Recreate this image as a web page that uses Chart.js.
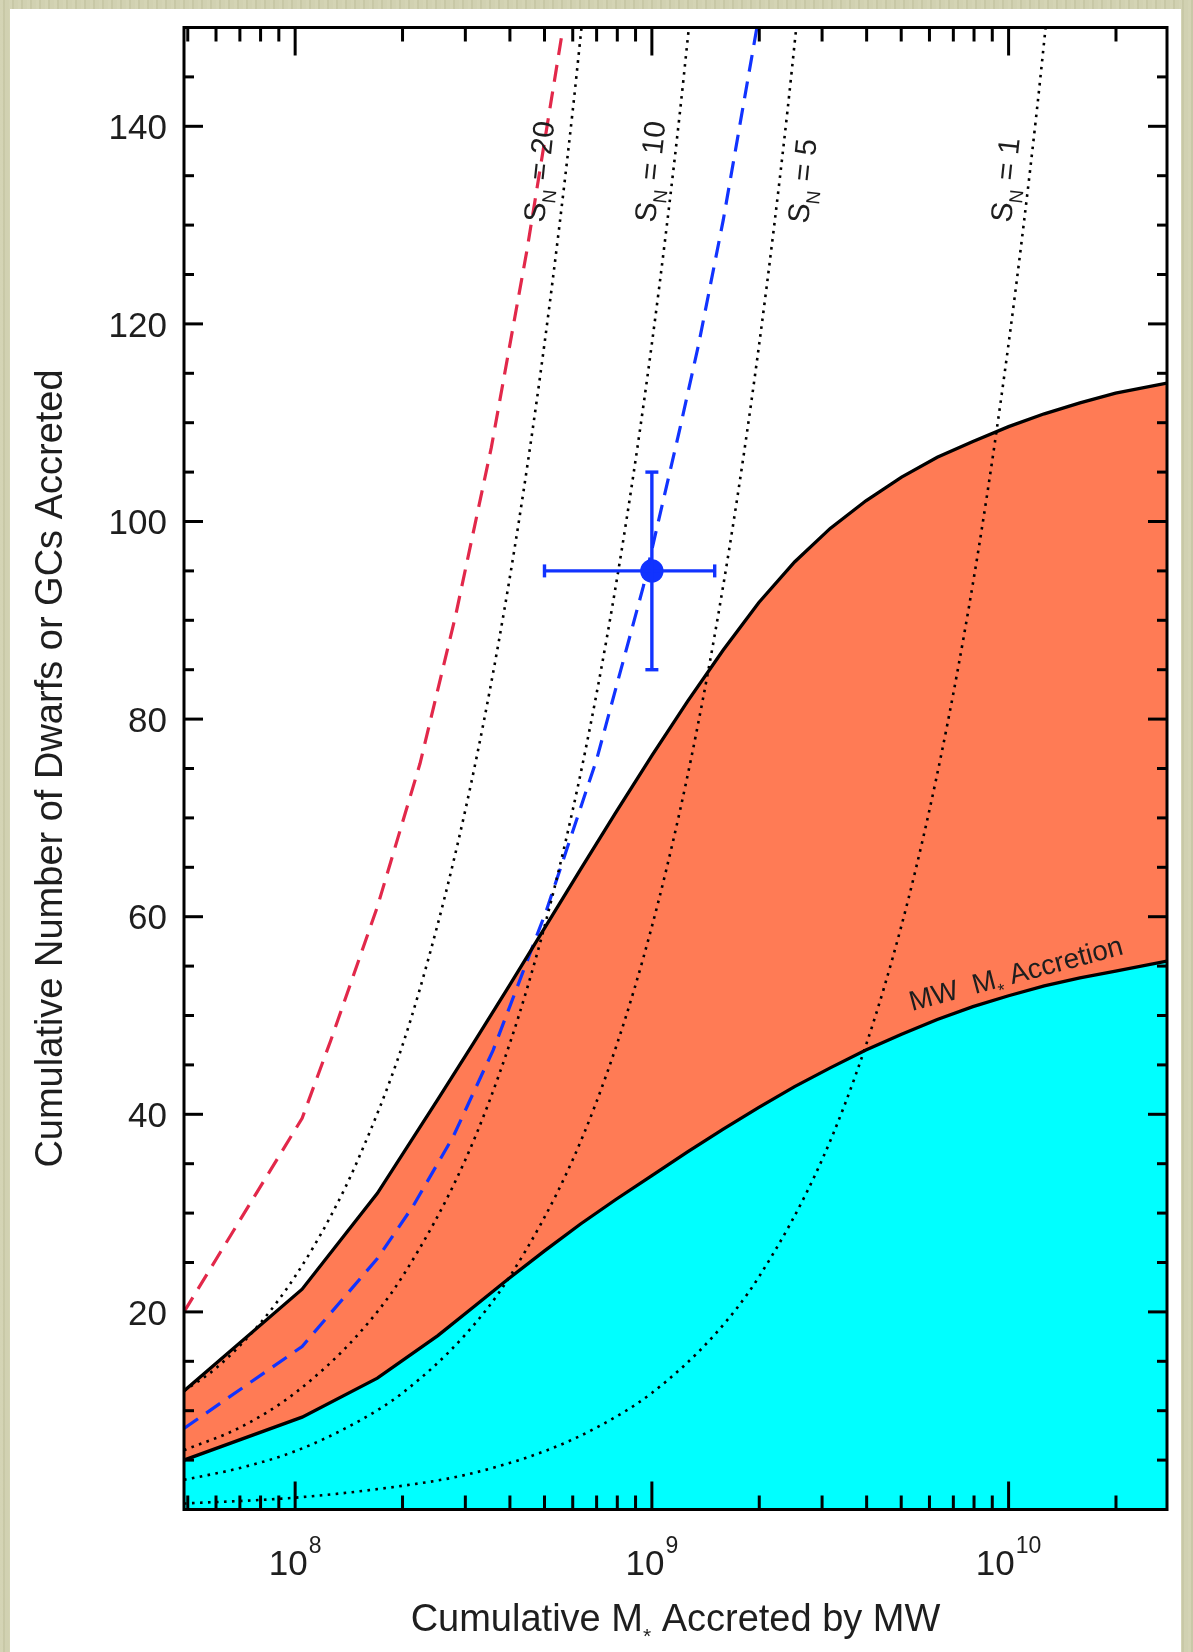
<!DOCTYPE html>
<html>
<head>
<meta charset="utf-8">
<script src="https://cdn.jsdelivr.net/npm/chart.js@4.4.1/dist/chart.umd.min.js"></script>
<style>
  html, body { margin: 0; padding: 0; }
  body {
    width: 1193px; height: 1652px; position: relative; overflow: hidden;
    background-color: #cfcfae;
    background-image: repeating-linear-gradient(90deg, rgba(255,255,240,0.10) 0 3px, rgba(120,120,80,0.08) 3px 5px, rgba(255,255,240,0.05) 5px 9px);
  }
  #panel { position: absolute; left: 10px; top: 9px; width: 1171px; height: 1643px; background: #fff; }
  #wrap { position: absolute; left: 0; top: 0; width: 1193px; height: 1652px; }
</style>
</head>
<body>
<div id="panel"></div>
<div id="wrap"><canvas id="c" width="1193" height="1652"></canvas></div>
<script>
// Axis ranges
const massMin = 4.88e7;
const massMax = 2.78e10;
const countMin = 0;
const countMax = 150;

// Accreted-dwarf band: stellar mass accreted (Msun) with upper and lower counts
const bandMass  = [4.88e7, 1.046e8, 1.70e8, 2.512e8, 3.162e8, 3.981e8, 5.012e8, 6.310e8, 7.943e8, 1.0e9,
                   1.259e9, 1.585e9, 1.995e9, 2.512e9, 3.162e9, 3.981e9, 5.012e9, 6.310e9, 7.943e9, 1.0e10,
                   1.259e10, 1.585e10, 1.995e10, 2.78e10];
const bandUpper = [12.0, 22.3, 32.0, 41.5, 47.2, 53.0, 58.9, 64.8, 70.6, 76.3,
                   81.8, 87.0, 91.8, 95.9, 99.3, 102.1, 104.5, 106.5, 108.1, 109.6,
                   110.9, 112.0, 113.0, 114.0];
const bandLower = [5.0, 9.35, 13.3, 17.6, 20.5, 23.4, 26.2, 28.9, 31.4, 33.8,
                   36.2, 38.5, 40.7, 42.8, 44.7, 46.5, 48.1, 49.6, 50.9, 52.0,
                   53.0, 53.8, 54.5, 55.5];

// GC counts for constant specific frequency S_N
const sn20Mass = [4.88e7, 6e7, 8e7, 1e8, 1.25e8, 1.5e8, 2e8, 2.5e8, 3e8, 3.5e8, 4e8, 4.5e8, 5e8, 5.5e8, 6e8, 6.35e8];
const sn20N    = [12.0, 14.3, 18.9, 23.6, 29.5, 35.4, 47.0, 59.0, 70.8, 82.6, 94.4, 106.2, 118.0, 129.8, 141.6, 150.0];
const sn10Mass = [4.88e7, 7e7, 1e8, 1.5e8, 2e8, 3e8, 4e8, 5e8, 6e8, 7e8, 8e8, 9e8, 1e9, 1.1e9, 1.2e9, 1.27e9];
const sn10N    = [6.0, 8.3, 11.8, 17.7, 23.6, 35.4, 47.2, 59.0, 70.8, 82.6, 94.4, 106.2, 118.0, 129.8, 141.6, 150.0];
const sn5Mass  = [4.88e7, 7e7, 1e8, 1.5e8, 2e8, 3e8, 4e8, 6e8, 8e8, 1e9, 1.2e9, 1.4e9, 1.6e9, 1.8e9, 2e9, 2.2e9, 2.4e9, 2.54e9];
const sn5N     = [3.0, 4.2, 5.9, 8.9, 11.8, 17.7, 23.6, 35.4, 47.2, 59.0, 70.8, 82.6, 94.4, 106.2, 118.0, 129.8, 141.6, 150.0];
const sn1Mass  = [4.88e7, 1e8, 2e8, 3e8, 5e8, 7e8, 1e9, 1.5e9, 2e9, 3e9, 4e9, 5e9, 6e9, 7e9, 8e9, 9e9, 1e10, 1.1e10, 1.2e10, 1.27e10];
const sn1N     = [0.6, 1.2, 2.4, 3.5, 5.9, 8.3, 11.8, 17.7, 23.6, 35.4, 47.2, 59.0, 70.8, 82.6, 94.4, 106.2, 118.0, 129.8, 141.6, 150.0];

// Dashed model tracks
const redMass  = [4.88e7, 1.046e8, 1.259e8, 1.70e8, 2.239e8, 2.818e8, 3.548e8, 4.467e8, 5.636e8];
const redN     = [20.0, 39.6, 47.5, 61.0, 75.5, 90.5, 107.5, 127.5, 150.0];
const blueMass = [4.88e7, 1.046e8, 1.70e8, 2.14e8, 2.77e8, 3.59e8, 5.07e8, 7.0e8, 9.46e8, 1.20e9, 1.35e9, 1.585e9, 1.97e9];
const blueN    = [8.2, 16.5, 25.4, 30.7, 37.7, 46.5, 60.7, 75.9, 93.4, 109.5, 117.8, 130.5, 150.0];

// Measured point with its error range
const pointMass = [1e9];
const pointN = [95];
const pointMassLow = [5e8];
const pointMassHigh = [1.5e9];
const pointNLow = [85];
const pointNHigh = [105];

// Tick labels
const yTickLabels = [20, 40, 60, 80, 100, 120, 140];
const xTickValues = [1e8, 1e9, 1e10];
const xTickExps = ['8', '9', '10'];
const snLabels = ['20', '10', '5', '1'];

const FONT = '"Liberation Sans", Arial, Helvetica, sans-serif';
const INK = '#1e1e1e';

const pts = (m, n) => m.map((v, i) => ({ x: v, y: n[i] }));

const dotted = (mass, n) => ({
  data: pts(mass, n), borderColor: '#000', borderWidth: 2.6, borderDash: [2.6, 5.4],
  pointRadius: 0, fill: false, cubicInterpolationMode: 'monotone'
});
const dashed = (mass, n, color) => ({
  data: pts(mass, n), borderColor: color, borderWidth: 3.2, borderDash: [17, 10],
  pointRadius: 0, fill: false, tension: 0
});

function line(ctx, x1, y1, x2, y2) {
  ctx.beginPath(); ctx.moveTo(x1, y1); ctx.lineTo(x2, y2); ctx.stroke();
}

// Draws a run of text pieces along a rotated baseline; each piece has its own size and offset
function drawRun(ctx, x0, y0, angleDeg, parts) {
  ctx.save();
  ctx.translate(x0, y0);
  ctx.rotate(angleDeg * Math.PI / 180);
  ctx.textAlign = 'left';
  ctx.textBaseline = 'alphabetic';
  let cx = 0;
  for (const p of parts) {
    ctx.font = p.size + 'px ' + FONT;
    ctx.fillText(p.text, cx, p.dy || 0);
    cx += ctx.measureText(p.text).width + (p.gap || 0);
  }
  ctx.restore();
}
function runWidth(ctx, parts) {
  let w = 0;
  for (const p of parts) { ctx.font = p.size + 'px ' + FONT; w += ctx.measureText(p.text).width + (p.gap || 0); }
  return w;
}

const framePlugin = {
  id: 'frameAndLabels',
  afterDatasetsDraw(chart) {
    const { ctx, chartArea: a, scales: { x, y } } = chart;
    ctx.save();
    // error bars on the measured point
    ctx.strokeStyle = '#1133ff';
    ctx.lineWidth = 3.4;
    ctx.lineCap = 'butt';
    for (let i = 0; i < pointMass.length; i++) {
      const px = x.getPixelForValue(pointMass[i]);
      const py = y.getPixelForValue(pointN[i]);
      const xl = x.getPixelForValue(pointMassLow[i]), xh = x.getPixelForValue(pointMassHigh[i]);
      const yl = y.getPixelForValue(pointNLow[i]), yh = y.getPixelForValue(pointNHigh[i]);
      line(ctx, xl, py, xh, py);
      line(ctx, px, yl, px, yh);
      line(ctx, xl, py - 6.5, xl, py + 6.5);
      line(ctx, xh, py - 6.5, xh, py + 6.5);
      line(ctx, px - 6.5, yl, px + 6.5, yl);
      line(ctx, px - 6.5, yh, px + 6.5, yh);
    }
    // axis box
    ctx.strokeStyle = '#000';
    ctx.lineWidth = 3;
    ctx.strokeRect(a.left, a.top, a.right - a.left, a.bottom - a.top);
    // inward ticks on the log axis (bottom and top)
    for (let d = 1e7; d <= 1e11; d *= 10) {
      for (let k = 1; k <= 9; k++) {
        const v = k * d;
        if (v < massMin || v > massMax) continue;
        const px = x.getPixelForValue(v);
        const len = k === 1 ? 28 : 14;
        line(ctx, px, a.bottom, px, a.bottom - len);
        line(ctx, px, a.top, px, a.top + len);
      }
    }
    // inward ticks on the count axis (left and right)
    for (let v = countMin + 5; v < countMax; v += 5) {
      const py = y.getPixelForValue(v);
      const len = v % 20 === 0 ? 19 : 10;
      line(ctx, a.left, py, a.left + len, py);
      line(ctx, a.right, py, a.right - len, py);
    }
    ctx.restore();
  },
  afterDraw(chart) {
    const { ctx, chartArea: a, scales: { x } } = chart;
    ctx.save();
    ctx.fillStyle = INK;
    // decade labels with raised exponents
    ctx.textBaseline = 'alphabetic';
    ctx.textAlign = 'left';
    xTickValues.forEach((v, i) => {
      ctx.font = '35px ' + FONT;
      const wb = ctx.measureText('10').width;
      ctx.font = '23px ' + FONT;
      const we = ctx.measureText(xTickExps[i]).width;
      const left = x.getPixelForValue(v) - (wb + we + 1) / 2;
      ctx.font = '35px ' + FONT;
      ctx.fillText('10', left, 1575);
      ctx.font = '23px ' + FONT;
      ctx.fillText(xTickExps[i], left + wb + 1, 1553);
    });
    // x-axis title
    const xt = [
      { text: 'Cumulative M', size: 38 },
      { text: '*', size: 21, dy: 12 },
      { text: ' Accreted by MW', size: 38 }
    ];
    const xw = runWidth(ctx, xt);
    drawRun(ctx, (a.left + a.right) / 2 - xw / 2, 1631, 0, xt);
    // y-axis title
    ctx.save();
    ctx.translate(62, (a.top + a.bottom) / 2);
    ctx.rotate(-Math.PI / 2);
    ctx.textAlign = 'center';
    ctx.font = '38px ' + FONT;
    ctx.fillText('Cumulative Number of Dwarfs or GCs Accreted', 0, 0);
    ctx.restore();
    // S_N labels along the dotted tracks
    const snPos = [[544, 223], [655, 223], [808, 224], [1011, 223]];
    snLabels.forEach((s, i) => {
      drawRun(ctx, snPos[i][0], snPos[i][1], -84, [
        { text: 'S', size: 30 },
        { text: 'N', size: 19, dy: 9 },
        { text: ' = ' + s, size: 30 }
      ]);
    });
    // label on the lower band edge
    drawRun(ctx, 912, 1011, -15, [
      { text: 'MW  M', size: 28 },
      { text: '*', size: 18, dy: 9 },
      { text: ' Accretion', size: 28 }
    ]);
    ctx.restore();
  }
};

const chart = new Chart(document.getElementById('c'), {
  type: 'line',
  data: {
    datasets: [
      { data: pts(bandMass, bandLower), borderColor: '#000', borderWidth: 3.3, backgroundColor: '#00ffff',
        fill: 'origin', pointRadius: 0, tension: 0 },
      { data: pts(bandMass, bandUpper), borderColor: '#000', borderWidth: 3.3, backgroundColor: '#ff7b55',
        fill: '-1', pointRadius: 0, tension: 0 },
      dotted(sn20Mass, sn20N),
      dotted(sn10Mass, sn10N),
      dotted(sn5Mass, sn5N),
      dotted(sn1Mass, sn1N),
      dashed(redMass, redN, '#e2284a'),
      dashed(blueMass, blueN, '#1133ff'),
      { data: pts(pointMass, pointN), showLine: false, pointRadius: 11.7, pointHoverRadius: 11.7,
        pointBackgroundColor: '#1133ff', pointBorderColor: '#1133ff', pointBorderWidth: 0 }
    ]
  },
  options: {
    responsive: false,
    devicePixelRatio: 1,
    animation: false,
    events: [],
    layout: { padding: { left: 0, right: 26, top: 27.5, bottom: 142.5 } },
    plugins: {
      legend: { display: false },
      tooltip: { enabled: false },
      filler: { drawTime: 'beforeDatasetsDraw' }
    },
    scales: {
      x: {
        type: 'logarithmic', min: massMin, max: massMax, display: false
      },
      y: {
        type: 'linear', min: countMin, max: countMax,
        afterFit(scale) {
          scale.width = 184;
          scale.paddingTop = 0;
          scale.paddingBottom = 0;
        },
        grid: { display: false, drawTicks: false },
        border: { display: false },
        ticks: {
          stepSize: 5, autoSkip: false, padding: 17, color: INK, labelOffset: 3,
          font: { family: FONT, size: 35 },
          callback: (v) => yTickLabels.includes(v) ? String(v) : ''
        }
      }
    }
  },
  plugins: [framePlugin]
});
</script>
</body>
</html>
